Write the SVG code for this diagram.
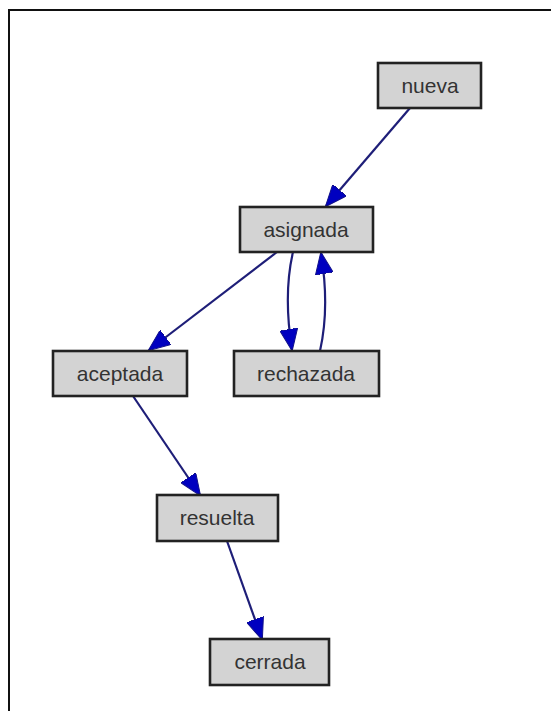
<svg xmlns="http://www.w3.org/2000/svg" width="551" height="711" viewBox="0 0 551 711">
<style>
.node rect{fill:#d3d3d3;stroke:#222;stroke-width:2.6}
.node text{font-family:"Liberation Sans",Arial,sans-serif;font-size:21px;fill:#333;text-anchor:middle}
.edge{fill:none;stroke:#1e1e78;stroke-width:2.2;marker-end:url(#arr)}
</style>
<defs>
<marker id="arr" viewBox="0 0 22 18" refX="21" refY="9" markerWidth="22" markerHeight="18" markerUnits="userSpaceOnUse" orient="auto">
<path d="M0,0 L22,9 L0,18 z" fill="#0000c0" stroke="#10108a" stroke-width="1"/>
</marker>
</defs>
<rect x="0" y="0" width="551" height="711" fill="#fff"/>
<path d="M9,711 L9,10 L551,10" fill="none" stroke="#111" stroke-width="2"/>
<g id="connectors">
<path class="edge" d="M410,108 L326,206"/>
<path class="edge" d="M277,252 L149,350"/>
<path class="edge" d="M293,252 C286,282 286,312 292,350"/>
<path class="edge" d="M320,351 C327,320 327,290 321,253"/>
<path class="edge" d="M133,396 L200,495"/>
<path class="edge" d="M227,541 L262,639"/>
</g>
<g id="nueva" class="node"><rect x="378" y="63" width="103" height="45"/><text x="430" y="93">nueva</text></g>
<g id="asignada" class="node"><rect x="240" y="207" width="133" height="45"/><text x="306" y="237">asignada</text></g>
<g id="aceptada" class="node"><rect x="53" y="351" width="134" height="45"/><text x="120" y="381">aceptada</text></g>
<g id="rechazada" class="node"><rect x="234" y="351" width="145" height="45"/><text x="306" y="381">rechazada</text></g>
<g id="resuelta" class="node"><rect x="157" y="495" width="121" height="46"/><text x="217" y="525">resuelta</text></g>
<g id="cerrada" class="node"><rect x="210" y="639" width="119" height="46"/><text x="270" y="669">cerrada</text></g>
</svg>
